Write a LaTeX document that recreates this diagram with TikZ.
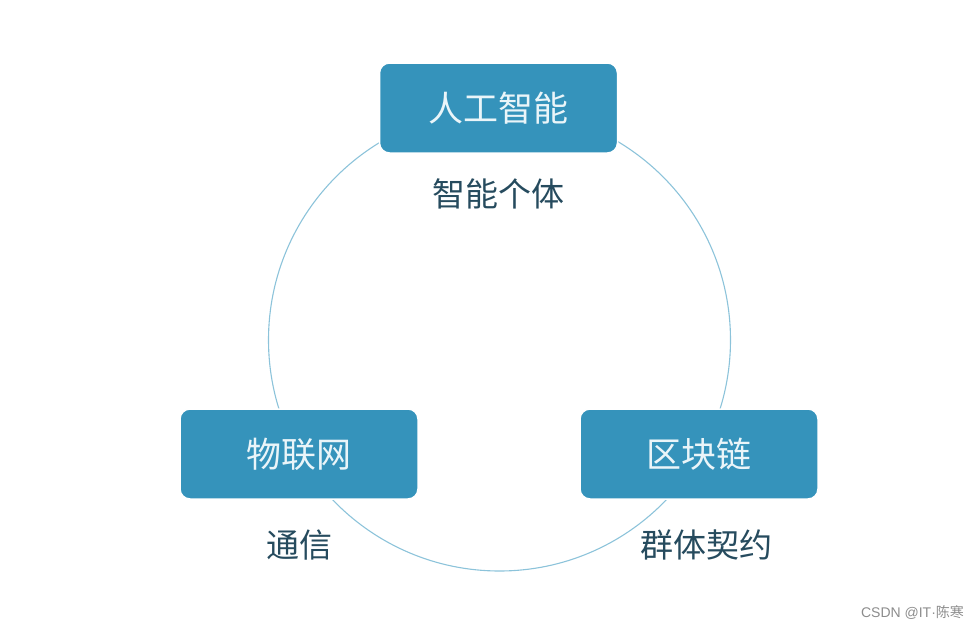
\documentclass[tikz,border=0pt]{standalone}
\usepackage{fontspec}
\newfontfamily\cjk{Noto Sans CJK SC}
\newfontfamily\latinsans{Liberation Sans}
\usetikzlibrary{positioning}

\definecolor{boxblue}{HTML}{3593BB}
\definecolor{boxtext}{HTML}{EAF5F9}
\definecolor{ringblue}{HTML}{8CC3DA}
\definecolor{lbltext}{HTML}{264B5E}

\begin{document}
\begin{tikzpicture}[
  x=1pt,y=1pt,
  techbox/.style={draw=white,line width=1.5pt,fill=boxblue,rounded corners=10pt,
                  minimum width=238pt,minimum height=90pt,inner sep=0pt,
                  text=boxtext,font=\cjk\fontsize{35}{40}\selectfont},
  role/.style={text=lbltext,inner sep=0pt,font=\cjk\fontsize{33}{38}\selectfont},
  ring/.style={draw=ringblue,line width=1.1pt},
]
\useasboundingbox (0,0) rectangle (978,-633);

% ---- the ring behind the three boxes ----
\coordinate (hub) at (499.5,-340);
\draw[ring] (hub) circle[radius=231];

% ---- the three technologies ----
\node[techbox] (ai)    at (498.5,-108) {人工智能};
\node[techbox] (iot)   at (299,-454)   {物联网};
\node[techbox] (chain) at (699,-454)   {区块链};

% ---- what each one brings ----
\node[role] (agent)    at (498,-194) {智能个体};
\node[role] (comm)     at (299,-545) {通信};
\node[role] (contract) at (706,-545) {群体契约};

% watermark
\node[text=black!45,inner sep=0pt,font=\fontsize{14}{16}\selectfont]
     (mark) at (912.5,-613) {{\latinsans CSDN @IT·}{\cjk 陈寒}};

\end{tikzpicture}
\end{document}
